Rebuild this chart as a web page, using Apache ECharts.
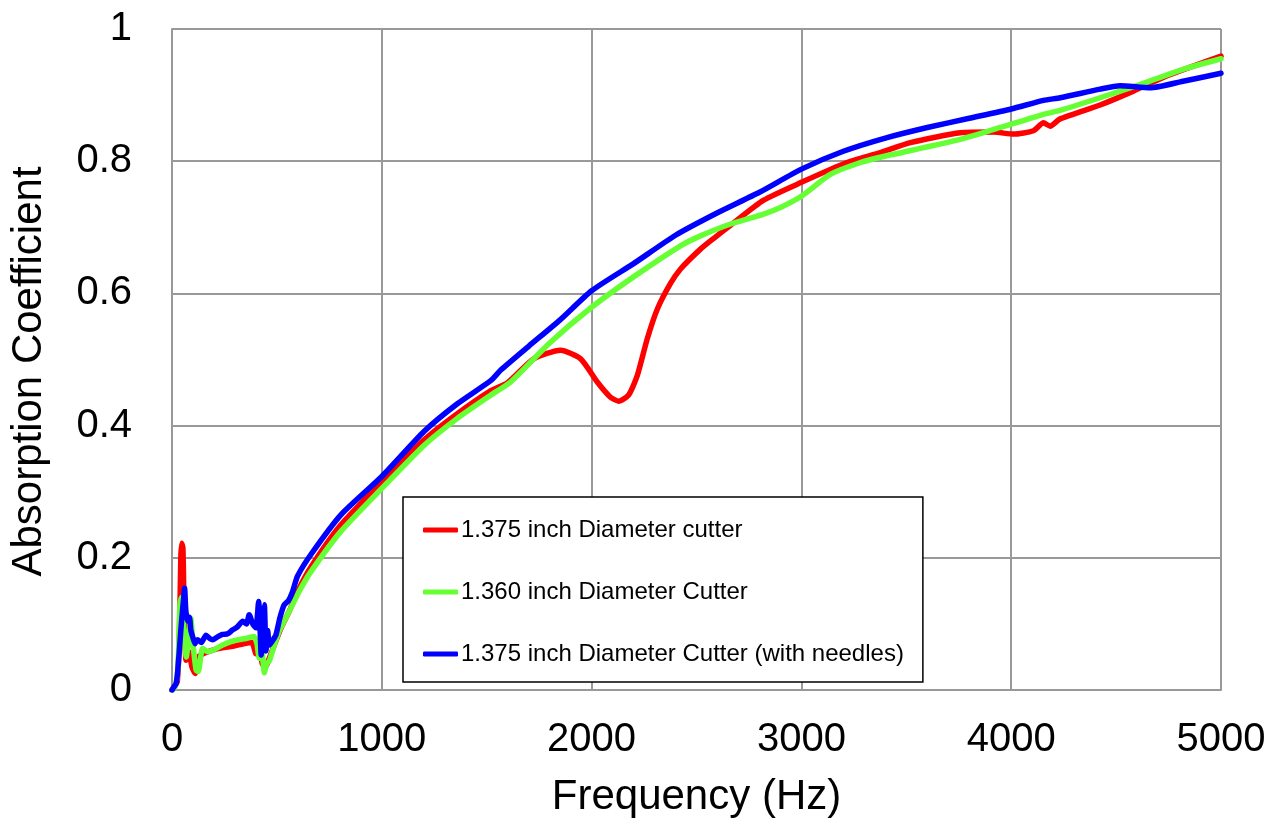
<!DOCTYPE html>
<html>
<head>
<meta charset="utf-8">
<script src="https://cdn.jsdelivr.net/npm/echarts@6/dist/echarts.min.js"></script>
<style>
html,body{margin:0;padding:0;background:#fff;}
#chart{width:1274px;height:823px;}
</style>
</head>
<body>
<div id="chart"></div>
<script>
const seriesNames = [
  '1.375 inch Diameter cutter',
  '1.360 inch Diameter Cutter',
  '1.375 inch Diameter Cutter (with needles)'
];
const xTicks = [0, 1000, 2000, 3000, 4000, 5000];
const yTicks = [0, 0.2, 0.4, 0.6, 0.8, 1];

const redFreq = [0, 10, 25, 35, 42, 46, 52, 58, 67, 80, 95, 110, 125, 150, 190, 240, 290, 340, 380, 400, 415, 430, 445, 460, 490, 520, 560, 600, 660, 800, 1000, 1200, 1360, 1520, 1600, 1724, 1852, 1948, 2027, 2090, 2129, 2176, 2218, 2265, 2313, 2376, 2424, 2519, 2581, 2662, 2820, 3000, 3217, 3376, 3519, 3757, 3916, 4011, 4106, 4154, 4186, 4233, 4424, 4582, 4741, 5000];
const redVals = [0, 0.005, 0.012, 0.08, 0.2, 0.222, 0.215, 0.12, 0.045, 0.058, 0.035, 0.025, 0.05, 0.055, 0.06, 0.064, 0.066, 0.07, 0.072, 0.055, 0.07, 0.04, 0.034, 0.045, 0.07, 0.094, 0.12, 0.15, 0.185, 0.248, 0.315, 0.378, 0.418, 0.453, 0.465, 0.501, 0.514, 0.501, 0.466, 0.443, 0.437, 0.446, 0.476, 0.531, 0.576, 0.615, 0.637, 0.667, 0.683, 0.703, 0.741, 0.768, 0.798, 0.813, 0.828, 0.843, 0.844, 0.841, 0.846, 0.858, 0.853, 0.864, 0.885, 0.906, 0.929, 0.959];

const greenFreq = [0, 15, 28, 38, 45, 55, 68, 80, 90, 100, 115, 125, 146, 170, 194, 241, 289, 352, 391, 405, 416, 428, 440, 452, 464, 490, 511, 559, 606, 662, 805, 1000, 1201, 1360, 1519, 1614, 1800, 2000, 2200, 2424, 2519, 2662, 2820, 2900, 3000, 3138, 3281, 3376, 3757, 3948, 4154, 4233, 4424, 4614, 4819, 5000];
const greenVals = [0, 0.005, 0.03, 0.13, 0.14, 0.1, 0.05, 0.08, 0.108, 0.07, 0.03, 0.028, 0.063, 0.058, 0.06, 0.068, 0.074, 0.078, 0.081, 0.07, 0.048, 0.06, 0.026, 0.04, 0.044, 0.07, 0.089, 0.119, 0.149, 0.179, 0.24, 0.305, 0.37, 0.411, 0.446, 0.466, 0.525, 0.579, 0.625, 0.672, 0.687, 0.705, 0.72, 0.73, 0.747, 0.78, 0.798, 0.806, 0.833, 0.851, 0.871, 0.877, 0.896, 0.916, 0.939, 0.955];

const blueFreq = [0, 10, 20, 27, 35, 43, 50, 56, 60, 66, 75, 83, 90, 98, 110, 122, 140, 162, 180, 194, 215, 241, 265, 289, 310, 337, 355, 368, 385, 400, 413, 420, 425, 432, 440, 448, 456, 464, 480, 495, 515, 535, 555, 575, 598, 662, 805, 1000, 1201, 1360, 1519, 1567, 1700, 1850, 2000, 2200, 2400, 2600, 2800, 3000, 3200, 3400, 3600, 3800, 4000, 4154, 4233, 4424, 4519, 4662, 4819, 5000];
const blueVals = [0, 0.005, 0.01, 0.028, 0.06, 0.094, 0.12, 0.14, 0.154, 0.12, 0.104, 0.11, 0.09, 0.081, 0.07, 0.076, 0.072, 0.083, 0.078, 0.076, 0.08, 0.084, 0.085, 0.091, 0.095, 0.104, 0.1, 0.114, 0.1, 0.094, 0.134, 0.09, 0.053, 0.1, 0.129, 0.059, 0.09, 0.068, 0.075, 0.083, 0.11, 0.129, 0.135, 0.149, 0.172, 0.205, 0.265, 0.323, 0.391, 0.433, 0.468, 0.484, 0.52, 0.56, 0.604, 0.645, 0.688, 0.722, 0.753, 0.788, 0.815, 0.835, 0.851, 0.865, 0.879, 0.892, 0.896, 0.909, 0.914, 0.911, 0.921, 0.933];

const colors = ['#ff0000', '#66ff33', '#0000ff'];
const freqs = [redFreq, greenFreq, blueFreq];
const vals = [redVals, greenVals, blueVals];

const chart = echarts.init(document.getElementById('chart'), null, {renderer: 'canvas'});
const font = '"Liberation Sans", Arial, sans-serif';

chart.setOption({
  animation: false,
  backgroundColor: '#ffffff',
  grid: {left: 171, right: 53, top: 29, bottom: 131, containLabel: false},
  xAxis: {
    type: 'value', min: xTicks[0], max: xTicks[xTicks.length - 1], interval: 1000,
    name: 'Frequency (Hz)', nameLocation: 'middle', nameGap: 86,
    nameTextStyle: {fontSize: 42, color: '#000', fontFamily: font},
    axisLine: {show: true, lineStyle: {color: '#999', width: 2}},
    axisTick: {show: false},
    axisLabel: {fontSize: 40, color: '#000', fontFamily: font, margin: 30, formatter: v => String(v)},
    splitLine: {show: true, lineStyle: {color: '#999', width: 2}}
  },
  yAxis: {
    type: 'value', min: yTicks[0], max: yTicks[yTicks.length - 1], interval: 0.2,
    name: 'Absorption Coefficient', nameLocation: 'middle', nameGap: 122,
    nameTextStyle: {fontSize: 42, color: '#000', fontFamily: font, padding: [0, 24, 0, 0]},
    axisLine: {show: true, lineStyle: {color: '#999', width: 2}},
    axisTick: {show: false},
    axisLabel: {fontSize: 40, color: '#000', fontFamily: font, margin: 40},
    splitLine: {show: true, lineStyle: {color: '#999', width: 2}}
  },
  legend: {
    orient: 'vertical', left: 403, top: 497,
    padding: [18, 19, 13, 20], itemGap: 32,
    itemWidth: 35, itemHeight: 5, icon: 'roundRect',
    backgroundColor: '#fff', borderColor: '#000', borderWidth: 1.5, borderRadius: 0,
    textStyle: {fontSize: 24, lineHeight: 30, color: '#000', fontFamily: font, padding: [0, 0, 0, -2]},
    data: seriesNames
  },
  series: seriesNames.map((n, k) => ({
    name: n, type: 'line', showSymbol: false, smooth: 0.2,
    color: colors[k],
    lineStyle: {width: 5.5, color: colors[k], cap: 'round', join: 'round'},
    z: 2 + k,
    data: freqs[k].map((f, i) => [f, vals[k][i]])
  }))
});
</script>
</body>
</html>
